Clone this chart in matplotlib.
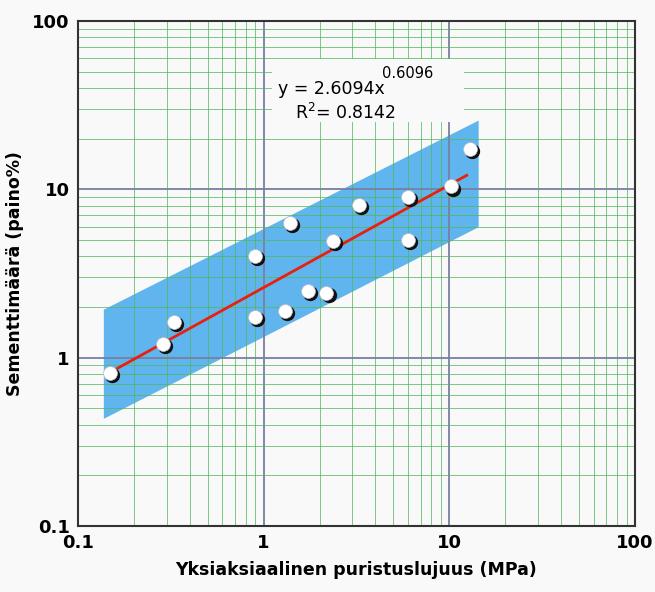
import numpy as np
import matplotlib
matplotlib.use("Agg")
import matplotlib.pyplot as plt
from matplotlib.ticker import LogLocator, FixedLocator, FixedFormatter, NullFormatter
import matplotlib.transforms as mtransforms

# measured points: compressive strength (MPa) vs cement content (weight %)
strength = [0.148, 0.286, 0.330, 0.897, 0.897, 1.30, 1.39, 1.74, 2.18, 2.37,
            3.27, 5.96, 5.96, 10.2, 12.9]
cement = [0.807, 1.20, 1.62, 4.02, 1.75, 1.89, 6.34, 2.50, 2.41, 4.94,
          8.08, 9.05, 5.01, 10.4, 17.3]

# power fit y = a * x^b
fit_a = 2.6094
fit_b = 0.6096
fit_r2 = 0.8142
fit_x = [0.15, 12.4]

# shaded band corners (x, lower, upper)
band_x = [0.137, 14.3]
band_lo = [0.436, 6.0]
band_hi = [1.94, 25.8]

ticks = [0.1, 1, 10, 100]
tick_labels = ["0.1", "1", "10", "100"]

fig = plt.figure(figsize=(6.55, 5.92), dpi=100, facecolor="#f9f9f9")
ax = fig.add_axes([0.119, 0.1115, 0.8505, 0.853])
ax.set_facecolor("#f9f9f9")
ax.set_xscale("log")
ax.set_yscale("log")
ax.set_xlim(0.1, 100)
ax.set_ylim(0.1, 100)

# band
ax.fill_between(band_x, band_lo, band_hi, color="#45a9ee", alpha=0.85,
                lw=0, zorder=1)

# grid drawn above the band
ax.set_axisbelow(False)
for axis in (ax.xaxis, ax.yaxis):
    axis.set_major_locator(FixedLocator(ticks))
    axis.set_major_formatter(FixedFormatter(tick_labels))
    axis.set_minor_locator(LogLocator(base=10, subs=np.arange(2, 10)))
    axis.set_minor_formatter(NullFormatter())
ax.grid(which="minor", color="#4fb85a", lw=0.7, alpha=0.75)
ax.grid(which="major", color="#7880a0", lw=1.3)
ax.tick_params(which="both", length=0, pad=6)
for lab in ax.get_xticklabels() + ax.get_yticklabels():
    lab.set_fontsize(13)
    lab.set_fontweight("bold")

# fit line
xf = np.array(fit_x)
ax.plot(xf, fit_a * xf ** fit_b, color="#e8200c", lw=2, zorder=3)

# points with a small dark shadow
shadow = mtransforms.offset_copy(ax.transData, fig=fig, x=1.5, y=-1.5, units="points")
ax.plot(strength, cement, "o", ms=11, color="#111111", mec="none",
        transform=shadow, zorder=4)
ax.plot(strength, cement, "o", ms=10, color="white", mec="#bbbbcc", mew=0.5,
        zorder=5)

# equation box
box = matplotlib.patches.Rectangle((0.348, 0.80), 0.345, 0.125,
                                   transform=ax.transAxes, facecolor="#f9f9f9",
                                   edgecolor="none", zorder=6)
ax.add_patch(box)
ax.text(0.36, 0.866, "y = %.4fx" % fit_a, transform=ax.transAxes,
        fontsize=12.5, va="center", ha="left", zorder=7)
ax.text(0.546, 0.897, "%.4f" % fit_b, transform=ax.transAxes,
        fontsize=10.5, va="center", ha="left", zorder=7)
ax.text(0.39, 0.818, "R$^{2}$= %.4f" % fit_r2, transform=ax.transAxes,
        fontsize=12.5, va="center", ha="left", zorder=7)

for s in ax.spines.values():
    s.set_color("#333333")
    s.set_linewidth(1.5)
    s.set_zorder(8)

ax.set_xlabel("Yksiaksiaalinen puristuslujuus (MPa)", fontsize=12.5,
              fontweight="bold", labelpad=6)
ax.set_ylabel("Sementtimäärä (paino%)", fontsize=12.5, fontweight="bold",
              labelpad=6)

fig.savefig("out.png", dpi=100, facecolor=fig.get_facecolor())
